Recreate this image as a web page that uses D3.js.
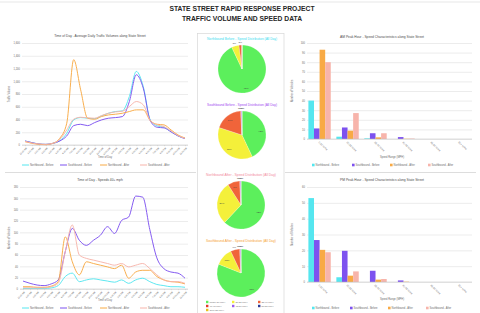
<!DOCTYPE html>
<html>
<head>
<meta charset="utf-8">
<script src="https://cdn.jsdelivr.net/npm/d3@7"></script>
<style>
  body { margin: 0; background: #fff; }
  svg { display: block; font-family: "Liberation Sans", Arial, sans-serif; }
</style>
</head>
<body>
<div id="board"></div>
<script>
// hours along the x axis of both line charts
const hours = [
  "12:00 AM", "1:00 AM", "2:00 AM", "3:00 AM", "4:00 AM", "5:00 AM",
  "6:00 AM", "7:00 AM", "8:00 AM", "9:00 AM", "10:00 AM", "11:00 AM",
  "12:00 PM", "1:00 PM", "2:00 PM", "3:00 PM", "4:00 PM", "5:00 PM",
  "6:00 PM", "7:00 PM", "8:00 PM", "9:00 PM", "10:00 PM", "11:00 PM",
];

const seriesNames = [
  "Northbound - Before",
  "Southbound - Before",
  "Northbound - After",
  "Southbound - After",
];
const seriesColors = ["#55e6ef", "#7d52ef", "#f8aa45", "#f7b4ab"];

// average daily traffic volume by hour
const volNorthBefore = [63, 37, 16, 10, 26, 68, 184, 393, 430, 420, 414, 456, 498, 525, 535, 761, 1154, 918, 393, 299, 278, 210, 142, 105];
const volSouthBefore = [63, 37, 16, 10, 26, 63, 142, 304, 325, 304, 351, 393, 420, 430, 446, 682, 1102, 892, 383, 278, 268, 205, 142, 100];
const volNorthAfter = [52, 26, 10, 5, 26, 105, 341, 1338, 866, 420, 404, 446, 472, 483, 498, 525, 551, 551, 383, 325, 315, 236, 157, 110];
const volSouthAfter = [58, 31, 16, 10, 26, 89, 236, 404, 435, 425, 420, 462, 498, 519, 530, 603, 682, 630, 383, 315, 289, 220, 147, 105];

// vehicles over 40 mph by hour
const fastNorthBefore = [1, 1, 1, 1, 2, 6, 22, 28, 13, 16, 18, 16, 14, 12, 16, 10, 16, 19, 13, 8, 6, 4, 4, 3];
const fastSouthBefore = [14, 10, 7, 6, 9, 16, 66, 107, 86, 77, 86, 95, 110, 98, 121, 127, 164, 162, 105, 55, 36, 30, 28, 19];
const fastNorthAfter = [4, 4, 3, 3, 5, 13, 92, 48, 25, 48, 45, 42, 39, 36, 42, 19, 30, 33, 33, 22, 16, 13, 12, 9];
const fastSouthAfter = [2, 2, 2, 2, 4, 10, 66, 113, 60, 54, 51, 48, 45, 42, 45, 39, 42, 45, 36, 25, 16, 13, 13, 10];

// peak hour speed bins
const speedBins = ["0-30 MPH", "30-35 MPH", "35-40 MPH", "40-45 MPH", "45-50 MPH", "50+ MPH"];
const amNorthBefore = [40, 2.4, 0.7, 0, 0, 0];
const amSouthBefore = [11, 12, 6, 2, 0, 0];
const amNorthAfter = [93, 8.7, 1.7, 0.3, 0, 0];
const amSouthAfter = [80, 27, 6, 0.5, 0, 0];
const pmNorthBefore = [53, 3, 0, 0, 0, 0];
const pmSouthBefore = [26.5, 19.7, 7.1, 1, 0, 0];
const pmNorthAfter = [20.3, 4, 1.5, 0.2, 0, 0];
const pmSouthAfter = [18.8, 6.7, 1.9, 0, 0, 0];

// speed distribution pies (percent of vehicles)
const pieBins = ["Under 30 MPH", "30-35 MPH", "35-40 MPH", "40-45 MPH", "45-50 MPH", "50-55 MPH", "Over 55 MPH"];
const pieColors = ["#5cef5c", "#f4f03a", "#f0643a", "#e23a2a", "#9a5cf0", "#2c3a96", "#e9c21c"];
const pieNorthBefore = [93, 5, 2, 0, 0, 0, 0];
const pieSouthBefore = [43, 37, 19, 0.5, 0.5, 0, 0];
const pieNorthAfter = [62, 29, 8, 0.5, 0.5, 0, 0];
const pieSouthAfter = [81, 12, 6, 0.5, 0.5, 0, 0];
const pieTitles = [
  "Northbound Before - Speed Distribution (All Day)",
  "Southbound Before - Speed Distribution (All Day)",
  "Northbound After - Speed Distribution (All Day)",
  "Southbound After - Speed Distribution (All Day)",
];
const pieTitleColors = ["#38dcef", "#a048f0", "#f2889c", "#f6a232"];

const W = 480;
const H = 313;
const textGrey = "#6b6b6b";

const svg = d3
  .select("#board")
  .append("svg")
  .attr("width", W)
  .attr("height", H)
  .attr("viewBox", [0, 0, W, H]);

svg.append("rect").attr("width", W).attr("height", H).attr("fill", "#fff");

// frame lines
svg.append("line").attr("x1", 0).attr("x2", W).attr("y1", 2).attr("y2", 2)
  .attr("stroke", "#d6d6d6").attr("stroke-width", 0.6);
svg.append("rect").attr("x", 197.5).attr("y", 33.5).attr("width", 86.5).attr("height", 290)
  .attr("fill", "none").attr("stroke", "#d8d8d8").attr("stroke-width", 0.7);
[[5, 196], [285, 476]].forEach(([a, b]) => {
  svg.append("line").attr("x1", a).attr("x2", b).attr("y1", 172.5).attr("y2", 172.5)
    .attr("stroke", "#cfcfcf").attr("stroke-width", 0.7);
});

// main title
svg.append("text").attr("x", 242).attr("y", 10.5).attr("text-anchor", "middle")
  .attr("font-size", 6.6).attr("font-weight", "bold").attr("fill", "#262626")
  .attr("textLength", 145).attr("lengthAdjust", "spacingAndGlyphs")
  .text("STATE STREET RAPID RESPONSE PROJECT");
svg.append("text").attr("x", 242).attr("y", 20.5).attr("text-anchor", "middle")
  .attr("font-size", 6.6).attr("font-weight", "bold").attr("fill", "#262626")
  .attr("textLength", 120).attr("lengthAdjust", "spacingAndGlyphs")
  .text("TRAFFIC VOLUME AND SPEED DATA");

function styleAxis(g) {
  g.select(".domain").remove();
  g.selectAll("text").attr("fill", textGrey).attr("font-size", 2.6);
}

function drawLegend(y, xs, swatchKind) {
  seriesNames.forEach((name, i) => {
    const g = svg.append("g").attr("transform", `translate(${xs[i]},${y})`);
    if (swatchKind === "line") {
      g.append("line").attr("x1", 0).attr("x2", 7).attr("y1", 0).attr("y2", 0)
        .attr("stroke", seriesColors[i]).attr("stroke-width", 1);
    } else {
      g.append("rect").attr("x", 0).attr("y", -1.3).attr("width", 2.6).attr("height", 2.6)
        .attr("fill", seriesColors[i]);
    }
    g.append("text").attr("x", swatchKind === "line" ? 8 : 3.6).attr("y", 1)
      .attr("font-size", 2.6).attr("fill", textGrey).text(name);
  });
}

function drawLineChart(cfg) {
  const x = d3.scalePoint().domain(hours).range([cfg.left + 3, cfg.right - 3]);
  const y = d3.scaleLinear().domain([0, cfg.max]).range([cfg.bottom, cfg.top]);
  const ticks = d3.range(0, cfg.max + cfg.step, cfg.step);

  // gridlines + y labels
  svg.append("g")
    .attr("transform", `translate(${cfg.left},0)`)
    .call(d3.axisLeft(y).tickValues(ticks).tickSize(-(cfg.right - cfg.left)).tickPadding(2))
    .call(styleAxis)
    .call((g) => g.selectAll("line").attr("stroke", "#d9d9d9").attr("stroke-width", 0.5));

  // x axis with slanted hour labels
  const xa = svg.append("g")
    .attr("transform", `translate(0,${cfg.bottom})`)
    .call(d3.axisBottom(x).tickSize(1.2).tickPadding(1))
    .call(styleAxis);
  xa.selectAll("line").attr("stroke", "#bfbfbf").attr("stroke-width", 0.4);
  xa.selectAll("text").attr("text-anchor", "end").attr("dy", 0)
    .attr("transform", "translate(0,2) rotate(-45)").attr("font-size", 2.2);
  svg.append("line").attr("x1", cfg.left).attr("x2", cfg.right)
    .attr("y1", cfg.bottom).attr("y2", cfg.bottom).attr("stroke", "#bfbfbf").attr("stroke-width", 0.5);

  const line = d3.line()
    .x((d, i) => x(hours[i]))
    .y((d) => y(d))
    .curve(d3.curveMonotoneX);

  cfg.series.forEach((values, i) => {
    svg.append("path").datum(values).attr("d", line).attr("fill", "none")
      .attr("stroke", seriesColors[i]).attr("stroke-width", 1).attr("stroke-opacity", 0.95);
  });

  svg.append("text").attr("x", 100).attr("y", cfg.titleY).attr("text-anchor", "middle")
    .attr("font-size", 3.3).attr("fill", "#4a4a4a").text(cfg.title);
  svg.append("text").attr("transform", `translate(10,${(cfg.top + cfg.bottom) / 2}) rotate(-90)`)
    .attr("text-anchor", "middle").attr("font-size", 2.6).attr("fill", textGrey).text(cfg.yTitle);
  svg.append("text").attr("x", 105).attr("y", cfg.xTitleY).attr("text-anchor", "middle")
    .attr("font-size", 2.6).attr("fill", textGrey).text("Time of Day");

  drawLegend(cfg.legendY, [22, 60, 100, 140], "line");
}

function drawBarChart(cfg) {
  const x0 = d3.scaleBand().domain(speedBins).range([cfg.left, cfg.right])
    .paddingInner(0.2).paddingOuter(0.05);
  const x1 = d3.scaleBand().domain(d3.range(4)).range([0, x0.bandwidth()]);
  const y = d3.scaleLinear().domain([0, cfg.max]).range([cfg.bottom, cfg.top]);
  const ticks = d3.range(0, cfg.max + cfg.step, cfg.step);

  svg.append("g")
    .attr("transform", `translate(${cfg.left},0)`)
    .call(d3.axisLeft(y).tickValues(ticks).tickSize(-(cfg.right - cfg.left)).tickPadding(2))
    .call(styleAxis)
    .call((g) => g.selectAll("line").attr("stroke", "#d9d9d9").attr("stroke-width", 0.5));

  cfg.series.forEach((values, s) => {
    svg.append("g")
      .selectAll("rect")
      .data(values)
      .enter()
      .append("rect")
      .attr("x", (d, i) => x0(speedBins[i]) + x1(s))
      .attr("y", (d) => y(d))
      .attr("width", x1.bandwidth())
      .attr("height", (d) => cfg.bottom - y(d))
      .attr("fill", seriesColors[s]);
  });

  const xa = svg.append("g")
    .attr("transform", `translate(0,${cfg.bottom})`)
    .call(d3.axisBottom(x0).tickSize(0).tickPadding(2))
    .call(styleAxis);
  xa.selectAll("text").attr("text-anchor", "start").attr("dy", 0)
    .attr("transform", "translate(0,2) rotate(45)");
  svg.append("line").attr("x1", cfg.left).attr("x2", cfg.right)
    .attr("y1", cfg.bottom).attr("y2", cfg.bottom).attr("stroke", "#bfbfbf").attr("stroke-width", 0.5);

  svg.append("text").attr("x", 382).attr("y", cfg.titleY).attr("text-anchor", "middle")
    .attr("font-size", 3.3).attr("fill", "#4a4a4a").text(cfg.title);
  svg.append("text").attr("transform", `translate(293,${(cfg.top + cfg.bottom) / 2}) rotate(-90)`)
    .attr("text-anchor", "middle").attr("font-size", 2.6).attr("fill", textGrey).text(cfg.yTitle);
  svg.append("text").attr("x", 392).attr("y", cfg.xTitleY).attr("text-anchor", "middle")
    .attr("font-size", 2.6).attr("fill", textGrey).text("Speed Range (MPH)");

  drawLegend(cfg.legendY, cfg.legendXs, "box");
}

function drawPie(values, cx, cy, title, titleColor, titleY) {
  const r = 24;
  const pie = d3.pie().sort(null).value((d) => d);
  const arc = d3.arc().innerRadius(0).outerRadius(r);
  const arcs = pie(values);
  const g = svg.append("g").attr("transform", `translate(${cx},${cy})`);

  g.selectAll("path")
    .data(arcs)
    .enter()
    .append("path")
    .attr("d", arc)
    .attr("fill", (d, i) => pieColors[i])
    .attr("stroke", "#fff")
    .attr("stroke-width", 0.2);

  // data labels: big slices inside, small ones just outside the rim
  arcs.forEach((d) => {
    if (d.data <= 0) return;
    const mid = (d.startAngle + d.endAngle) / 2;
    const big = d.data >= 8;
    const rr = big ? r * 0.8 : r + 3;
    g.append("text")
      .attr("x", Math.sin(mid) * rr)
      .attr("y", -Math.cos(mid) * rr + 1)
      .attr("text-anchor", "middle")
      .attr("font-size", 2.4)
      .attr("fill", "#404040")
      .text(`${d.data}%`);
  });

  svg.append("text").attr("x", cx).attr("y", titleY).attr("text-anchor", "middle")
    .attr("font-size", 2.6).attr("fill", titleColor)
    .attr("textLength", 70).attr("lengthAdjust", "spacingAndGlyphs").text(title);
}

drawLineChart({
  left: 22, right: 188, top: 43, bottom: 145, max: 1600, step: 200,
  series: [volNorthBefore, volSouthBefore, volNorthAfter, volSouthAfter],
  title: "Time of Day - Average Daily Traffic Volumes along State Street",
  titleY: 37, yTitle: "Traffic Volume", xTitleY: 158, legendY: 165,
});

drawLineChart({
  left: 20, right: 188, top: 187, bottom: 289, max: 180, step: 20,
  series: [fastNorthBefore, fastSouthBefore, fastNorthAfter, fastSouthAfter],
  title: "Time of Day - Speeds 40+ mph",
  titleY: 181, yTitle: "Number of Vehicles", xTitleY: 301, legendY: 308,
});

drawBarChart({
  left: 307, right: 472, top: 43, bottom: 139, max: 100, step: 10,
  series: [amNorthBefore, amSouthBefore, amNorthAfter, amSouthAfter],
  title: "AM Peak Hour - Speed Characteristics along State Street",
  titleY: 38, yTitle: "Number of Vehicles", xTitleY: 158, legendY: 165,
  legendXs: [312, 352, 390, 428],
});

drawBarChart({
  left: 307, right: 472, top: 187, bottom: 282, max: 60, step: 10,
  series: [pmNorthBefore, pmSouthBefore, pmNorthAfter, pmSouthAfter],
  title: "PM Peak Hour - Speed Characteristics along State Street",
  titleY: 181, yTitle: "Number of Vehicles", xTitleY: 300, legendY: 308,
  legendXs: [312, 350, 388, 426],
});

const pies = [pieNorthBefore, pieSouthBefore, pieNorthAfter, pieSouthAfter];
const pieCenters = [[242, 69], [242, 135], [241, 205], [241, 273]];
const pieTitleYs = [40, 106, 176, 242];
pies.forEach((values, i) => {
  drawPie(values, pieCenters[i][0], pieCenters[i][1], pieTitles[i], pieTitleColors[i], pieTitleYs[i]);
});

// pie legend, three per row
pieBins.forEach((name, i) => {
  const lx = 206 + (i % 3) * 26;
  const ly = 302 + Math.floor(i / 3) * 4;
  svg.append("rect").attr("x", lx).attr("y", ly - 1.2).attr("width", 2.4).attr("height", 2.4)
    .attr("fill", pieColors[i]);
  svg.append("text").attr("x", lx + 3.4).attr("y", ly + 0.9).attr("font-size", 2.4)
    .attr("fill", textGrey).text(name);
});
</script>
</body>
</html>
